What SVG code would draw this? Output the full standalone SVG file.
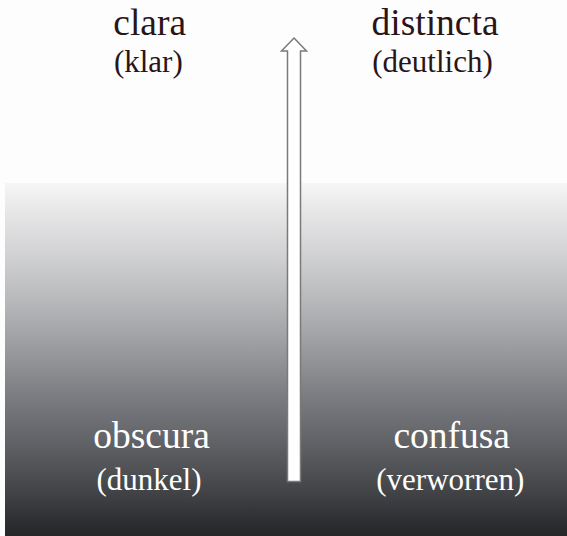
<svg xmlns="http://www.w3.org/2000/svg" width="567" height="536" viewBox="0 0 567 536">
<defs>
<linearGradient id="bg" x1="0" y1="0" x2="0" y2="1">
<stop offset="0" stop-color="#f6f6f6"/>
<stop offset="0.05" stop-color="#ececec"/>
<stop offset="0.19" stop-color="#d4d4d6"/>
<stop offset="0.33" stop-color="#b8b9bb"/>
<stop offset="0.47" stop-color="#9a9b9e"/>
<stop offset="0.61" stop-color="#7a7b80"/>
<stop offset="0.75" stop-color="#5e5f63"/>
<stop offset="0.89" stop-color="#3f4043"/>
<stop offset="0.95" stop-color="#2e3033"/>
<stop offset="1" stop-color="#252628"/>
</linearGradient>
</defs>
<style>
text{font-family:'Liberation Serif','Times New Roman',serif;text-anchor:middle}
.top{fill:#2a1417}
.bot{fill:#ffffff}
.h{font-size:37.5px}
.s{font-size:31px}
.arrow{fill:#ffffff;stroke:#7a7a7a;stroke-width:1.5}
</style>
<rect x="0" y="0" width="567" height="536" fill="#fdfdfd"/>
<rect x="5" y="183" width="562" height="353" fill="url(#bg)"/>
<g id="clara">
<text class="top h" x="149.7" y="35">clara</text>
<text class="top s" x="148.3" y="72">(klar)</text>
</g>
<g id="distincta">
<text class="top h" x="435" y="35">distincta</text>
<text class="top s" x="432.5" y="72">(deutlich)</text>
</g>
<g id="obscura">
<text class="bot h" x="151.5" y="448">obscura</text>
<text class="bot s" x="149" y="490">(dunkel)</text>
</g>
<g id="confusa">
<text class="bot h" x="451.7" y="448">confusa</text>
<text class="bot s" x="450.3" y="490">(verworren)</text>
</g>
<g id="connectors">
<polygon class="arrow" points="294,38 306.5,51 300.5,51 300.5,481.5 287.5,481.5 287.5,51 281.5,51"/>
</g>
</svg>
